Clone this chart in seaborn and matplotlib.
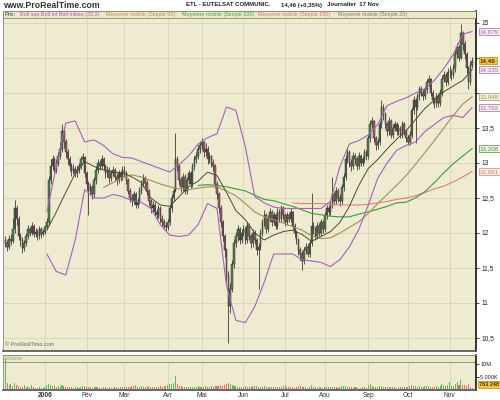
import numpy as np
import pandas as pd
import matplotlib
matplotlib.use("Agg")
import matplotlib.pyplot as plt
import matplotlib.transforms as mtrans
from matplotlib.patches import Rectangle
import seaborn as sns

# ------------------------------------------------------------------ data
first_session = "2005-12-01"
last_session = "2006-11-17"
closed_days = ["2005-12-26", "2006-04-14", "2006-04-17", "2006-05-01"]

first_open = 11.90
close_dec = [11.85, 11.80, 11.92, 11.88, 12.05, 12.35, 12.20, 11.95, 11.90, 11.78, 11.85, 11.95, 12.05, 12.00, 12.10, 11.98, 12.02, 11.95, 12.05, 11.98, 12.02]
close_jan = [12.08, 12.15, 12.75, 12.95, 13.05, 12.90, 13.00, 13.10, 13.20, 13.45, 13.30, 13.15, 13.05, 12.95, 12.88, 12.92, 12.85, 12.90, 12.95, 13.05, 13.08, 12.85]
close_feb = [12.70, 12.60, 12.65, 12.55, 12.75, 12.90, 13.00, 12.95, 13.05, 12.95, 12.85, 12.90, 12.78, 12.85, 12.90, 12.80, 12.75, 12.85, 12.80, 12.90]
close_mar = [12.85, 12.75, 12.60, 12.50, 12.45, 12.55, 12.40, 12.45, 12.60, 12.70, 12.78, 12.72, 12.60, 12.45, 12.35, 12.40, 12.30, 12.25, 12.35, 12.20, 12.15, 12.10, 12.08]
close_apr = [12.15, 12.35, 12.50, 12.60, 13.05, 12.95, 12.75, 12.65, 12.80, 12.60, 12.75, 12.85, 12.70, 12.95, 13.05, 13.10, 13.20, 13.25]
close_may = [13.30, 13.15, 13.20, 13.05, 13.10, 13.00, 12.95, 12.70, 12.55, 12.35, 12.15, 11.95, 11.75, 11.40, 10.95, 11.20, 11.55, 11.85, 11.95, 12.05, 11.90, 12.00]
close_jun = [12.05, 11.90, 12.10, 11.95, 11.85, 12.00, 11.90, 11.75, 11.80, 12.00, 12.15, 12.25, 12.05, 12.20, 12.30, 12.15, 12.25, 12.10, 12.30, 12.20, 12.35, 12.25]
close_jul = [12.15, 12.25, 12.20, 12.30, 12.10, 12.00, 11.90, 11.75, 11.70, 11.60, 11.75, 11.80, 11.70, 11.85, 12.10, 12.05, 11.95, 12.10, 12.00, 12.15, 12.05]
close_aug = [12.25, 12.35, 12.30, 12.40, 12.55, 12.45, 12.60, 12.50, 12.45, 12.65, 12.80, 13.05, 13.15, 13.00, 12.95, 13.10, 13.05, 12.95, 13.10, 13.00, 13.05, 13.15, 13.10]
close_sep = [13.35, 13.55, 13.60, 13.35, 13.25, 13.30, 13.55, 13.80, 13.70, 13.55, 13.45, 13.60, 13.40, 13.50, 13.55, 13.45, 13.50, 13.40, 13.55, 13.45, 13.35]
close_oct = [13.30, 13.40, 13.75, 13.90, 13.80, 13.95, 14.05, 14.00, 13.95, 14.05, 14.15, 14.20, 14.00, 13.90, 13.85, 13.95, 13.85, 14.00, 14.20, 14.25, 14.15, 14.30]
close_nov = [14.30, 14.25, 14.35, 14.55, 14.65, 14.50, 14.85, 14.70, 14.55, 14.35, 14.15, 14.40, 14.46]

high_dec = [11.95, 11.90, 11.97, 11.98, 12.22, 12.47, 12.40, 12.24, 12.00, 11.94, 11.90, 12.00, 12.12, 12.08, 12.16, 12.13, 12.07, 12.05, 12.10, 12.08, 12.06]
high_jan = [12.12, 12.22, 12.82, 13.05, 13.12, 13.08, 13.06, 13.16, 13.30, 13.55, 13.50, 13.34, 13.20, 13.10, 13.00, 12.98, 12.96, 12.95, 13.00, 13.10, 13.14, 13.10]
high_feb = [12.88, 12.74, 12.72, 12.68, 12.80, 12.96, 13.06, 13.04, 13.12, 13.08, 12.98, 12.95, 12.94, 12.90, 12.96, 12.93, 12.84, 12.90, 12.88, 12.95]
high_mar = [12.95, 12.88, 12.78, 12.64, 12.55, 12.60, 12.58, 12.50, 12.65, 12.76, 12.84, 12.82, 12.75, 12.63, 12.48, 12.46, 12.44, 12.34, 12.40, 12.38, 12.25, 12.20, 12.15]
high_apr = [12.20, 12.40, 12.55, 12.66, 13.43, 13.10, 12.98, 12.80, 12.86, 12.84, 12.80, 12.90, 12.88, 13.00, 13.10, 13.16, 13.26, 13.32]
high_may = [13.35, 13.32, 13.28, 13.24, 13.15, 13.12, 13.05, 12.98, 12.74, 12.58, 12.40, 12.18, 11.98, 11.78, 11.45, 11.28, 11.62, 11.92, 12.02, 12.12, 12.08, 12.06]
high_jun = [12.12, 12.08, 12.15, 12.14, 11.98, 12.05, 12.04, 11.93, 11.86, 12.05, 12.20, 12.33, 12.28, 12.26, 12.36, 12.33, 12.30, 12.28, 12.35, 12.34, 12.40, 12.38]
high_jul = [12.28, 12.30, 12.29, 12.35, 12.32, 12.14, 12.04, 11.93, 11.80, 11.74, 11.80, 11.86, 11.84, 11.90, 12.57, 12.15, 12.08, 12.15, 12.14, 12.20, 12.18]
high_aug = [12.30, 12.40, 12.40, 12.46, 12.80, 12.58, 12.66, 12.64, 12.55, 12.70, 12.86, 13.12, 13.22, 13.18, 13.05, 13.15, 13.14, 13.08, 13.15, 13.13, 13.10, 13.20, 13.18]
high_sep = [13.40, 13.62, 13.66, 13.62, 13.38, 13.36, 13.60, 13.90, 13.84, 13.73, 13.58, 13.66, 13.63, 13.56, 13.60, 13.58, 13.55, 13.53, 13.60, 13.58, 13.48]
high_oct = [13.40, 13.45, 13.80, 13.96, 13.93, 14.00, 14.10, 14.10, 14.04, 14.10, 14.20, 14.26, 14.22, 14.04, 13.94, 14.00, 13.98, 14.05, 14.26, 14.32, 14.28, 14.36]
high_nov = [14.38, 14.34, 14.42, 14.62, 14.72, 14.68, 14.98, 14.88, 14.74, 14.58, 14.38, 14.45, 14.52]

low_dec = [11.80, 11.74, 11.77, 11.83, 11.85, 12.00, 12.12, 11.90, 11.82, 11.72, 11.74, 11.82, 11.92, 11.95, 11.97, 11.94, 11.94, 11.90, 11.92, 11.93, 11.95]
low_jan = [11.98, 12.05, 12.12, 12.70, 12.90, 12.85, 12.86, 12.96, 13.05, 13.15, 13.22, 13.08, 12.98, 12.88, 12.82, 12.84, 12.80, 12.80, 12.86, 12.92, 13.00, 12.80]
low_feb = [12.62, 12.25, 12.55, 12.48, 12.52, 12.70, 12.86, 12.90, 12.92, 12.90, 12.78, 12.80, 12.72, 12.74, 12.82, 12.75, 12.68, 12.72, 12.74, 12.76]
low_mar = [12.80, 12.70, 12.55, 12.44, 12.38, 12.42, 12.35, 12.36, 12.42, 12.56, 12.66, 12.66, 12.54, 12.40, 12.28, 12.30, 12.24, 12.18, 12.22, 12.14, 12.10, 12.05, 12.03]
low_apr = [12.04, 12.12, 12.30, 12.46, 12.58, 12.88, 12.68, 12.58, 12.60, 12.55, 12.56, 12.70, 12.64, 12.66, 12.90, 13.00, 13.05, 13.14]
low_may = [13.18, 13.08, 13.10, 12.98, 13.00, 12.94, 12.88, 12.64, 12.48, 12.28, 12.08, 11.88, 11.66, 11.30, 10.43, 10.85, 11.15, 11.50, 11.80, 11.88, 11.84, 11.85]
low_jun = [11.95, 11.84, 11.86, 11.90, 11.78, 11.80, 11.84, 11.68, 11.20, 11.76, 11.96, 12.10, 12.00, 12.02, 12.15, 12.10, 12.12, 12.05, 12.06, 12.15, 12.16, 12.20]
low_jul = [12.10, 12.12, 12.15, 12.16, 12.05, 11.94, 11.84, 11.68, 11.62, 11.47, 11.56, 11.70, 11.65, 11.66, 11.82, 11.98, 11.90, 11.92, 11.95, 11.96, 12.00]
low_aug = [12.02, 12.20, 12.25, 12.26, 12.36, 12.40, 12.42, 12.44, 12.38, 12.42, 12.60, 12.76, 13.00, 12.94, 12.88, 12.92, 12.98, 12.90, 12.92, 12.95, 12.96, 13.00, 13.04]
low_sep = [13.06, 13.30, 13.50, 13.30, 13.18, 13.20, 13.26, 13.50, 13.62, 13.50, 13.38, 13.40, 13.35, 13.36, 13.45, 13.40, 13.40, 13.35, 13.36, 13.40, 13.30]
low_oct = [13.25, 13.26, 13.36, 13.70, 13.28, 13.76, 13.90, 13.95, 13.90, 13.92, 14.00, 14.10, 13.95, 13.84, 13.78, 13.80, 13.80, 13.82, 13.96, 14.15, 14.10, 14.12]
low_nov = [14.22, 14.18, 14.22, 14.30, 14.50, 14.45, 14.48, 14.62, 14.48, 14.28, 14.05, 14.12, 14.35]

# volume, thousands of shares
vol_dec = [12500, 2600, 1800, 2200, 1500, 2400, 1600, 1200, 900, 1100, 1700, 1000, 800, 900, 1900, 1000, 700, 600, 800, 500, 700]
vol_jan = [900, 1800, 2100, 1700, 1500, 1200, 900, 1300, 1100, 1600, 1200, 1000, 900, 800, 1100, 700, 900, 800, 700, 1000, 1200, 1300]
vol_feb = [1100, 900, 800, 700, 900, 1000, 800, 700, 600, 800, 900, 700, 800, 600, 700, 900, 800, 700, 1000, 800]
vol_mar = [900, 1100, 800, 1000, 1500, 1200, 1900, 1000, 1100, 1300, 900, 1000, 800, 1200, 900, 1000, 1100, 800, 900, 1300, 1000, 1200, 1400]
vol_apr = [1800, 2300, 2000, 2600, 5200, 2100, 1300, 1200, 900, 1000, 1100, 800, 900, 1000, 1100, 900, 1300, 1000]
vol_may = [1100, 900, 1200, 1000, 900, 1200, 1100, 1500, 1300, 1400, 1700, 1500, 1800, 2000, 2600, 2200, 1900, 1300, 1200, 1000, 1100, 900]
vol_jun = [1000, 1200, 900, 1100, 800, 1300, 1500, 1200, 1000, 900, 1100, 1200, 800, 1000, 900, 800, 1100, 1000, 900, 800, 1000, 1200]
vol_jul = [1700, 900, 800, 1000, 900, 700, 1100, 1200, 1300, 1000, 800, 900, 700, 900, 1600, 900, 800, 700, 800, 900, 700]
vol_aug = [800, 900, 1000, 800, 1100, 900, 800, 700, 900, 1200, 1300, 1500, 1100, 900, 800, 700, 900, 800, 700, 600, 800, 900, 700]
vol_sep = [1600, 2100, 1200, 900, 1000, 800, 1300, 1500, 1100, 1000, 900, 1100, 800, 900, 1000, 700, 800, 900, 1100, 1000, 900]
vol_oct = [1000, 1200, 1800, 1500, 1300, 1100, 1200, 1000, 900, 1300, 1400, 1200, 1000, 1100, 900, 1300, 1000, 1200, 2000, 1700, 1300, 1600]
vol_nov = [2900, 1500, 1400, 2100, 3100, 1800, 3600, 1900, 1700, 1500, 2300, 1100, 763.248]

# indicators, read every 5th session starting with the 3rd session
ind_offset = 2
ind_step = 5
boll_up = [None, None, None, None, 12.30, 12.95, 13.57, 13.60, 13.30, 13.33, 13.25, 13.13, 13.08, 13.07,
           13.02, 12.97, 12.92, 12.87, 12.98, 13.10, 13.27, 13.36, 13.42, 13.80, 13.75, 13.23, 12.52, 12.43,
           12.37, 12.35, 12.35, 12.35, 12.35, 12.35, 12.45, 12.95, 13.27, 13.32, 13.40, 13.55, 13.82, 13.88,
           13.93, 14.00, 14.06, 14.18, 14.35, 14.55, 14.84, 14.879]
boll_mid = [None, None, None, None, 12.04, 12.30, 12.58, 12.85, 13.02, 12.95, 12.90, 12.87, 12.86, 12.80,
            12.72, 12.50, 12.40, 12.38, 12.52, 12.66, 12.74, 12.87, 12.82, 12.58, 12.32, 12.19, 12.00, 11.90,
            11.97, 12.02, 12.04, 11.98, 11.88, 11.95, 12.02, 12.15, 12.38, 12.68, 12.92, 13.05, 13.20, 13.34,
            13.46, 13.62, 13.78, 13.90, 14.02, 14.10, 14.18, 14.335]
boll_low = [None, None, None, None, 11.70, 11.45, 11.40, 11.90, 12.62, 12.50, 12.50, 12.55, 12.52, 12.46,
            12.44, 12.35, 12.12, 11.97, 11.95, 11.97, 12.12, 12.42, 12.35, 11.25, 10.75, 10.72, 10.95, 11.30,
            11.70, 11.70, 11.70, 11.62, 11.60, 11.58, 11.52, 11.62, 11.80, 12.05, 12.40, 12.78, 13.00, 13.18,
            13.25, 13.30, 13.45, 13.55, 13.65, 13.68, 13.65, 13.792]
ma50 = [None] * 10 + [12.65, 12.72, 12.79, 12.83, 12.80, 12.75, 12.70, 12.66, 12.63, 12.62, 12.64, 12.66,
                      12.66, 12.60, 12.53, 12.42, 12.30, 12.23, 12.19, 12.14, 12.09, 12.04, 11.96, 11.92,
                      11.93, 12.00, 12.08, 12.16, 12.28, 12.42, 12.55, 12.68, 12.82, 12.98, 13.15, 13.32,
                      13.50, 13.68, 13.84, 13.948]
ma100 = [None] * 20 + [12.68, 12.69, 12.68, 12.66, 12.63, 12.60, 12.54, 12.48, 12.46, 12.42, 12.38, 12.33,
                       12.28, 12.26, 12.24, 12.23, 12.23, 12.27, 12.30, 12.34, 12.38, 12.43, 12.44, 12.50,
                       12.59, 12.72, 12.86, 12.99, 13.10, 13.208]
ma150 = [None] * 30 + [12.43, 12.42, 12.42, 12.42, 12.41, 12.40, 12.40, 12.40, 12.41, 12.43, 12.45, 12.48,
                       12.50, 12.53, 12.58, 12.63, 12.67, 12.73, 12.80, 12.881]

month_labels = ["2006", "Fév", "Mar", "Avr", "Mai", "Jun", "Jul", "Aou", "Sep", "Oct", "Nov"]
price_grid = [10.5, 11, 11.5, 12, 12.5, 13, 13.5, 14, 14.5, 15]
price_labelled = [10.5, 11, 11.5, 12, 12.5, 13, 13.5, 15]
vol_ticks = [5000, 10000]
vol_tick_labels = ["5 000K", "10M"]

title_left = "www.ProRealTime.com"
title_parts = ["ETL - EUTELSAT COMMUNIC.", "14,46 (+0,35%)", "Journalier  17 Nov"]
legend_items = [("Prix:", "#404040"),
                ("Boll sup Boll inf Boll milieu (20,2)", "#c050c0"),
                ("Moyenne mobile (Simple 50)", "#c09048"),
                ("Moyenne mobile (Simple 100)", "#38b038"),
                ("Moyenne mobile (Simple 150)", "#f07060"),
                ("Moyenne mobile (Simple 20)", "#808060")]

# ------------------------------------------------------------------ assemble
closes = np.array(close_dec + close_jan + close_feb + close_mar + close_apr + close_may +
                  close_jun + close_jul + close_aug + close_sep + close_oct + close_nov)
highs = np.array(high_dec + high_jan + high_feb + high_mar + high_apr + high_may +
                 high_jun + high_jul + high_aug + high_sep + high_oct + high_nov)
lows = np.array(low_dec + low_jan + low_feb + low_mar + low_apr + low_may +
                low_jun + low_jul + low_aug + low_sep + low_oct + low_nov)
vols = np.array(vol_dec + vol_jan + vol_feb + vol_mar + vol_apr + vol_may +
                vol_jun + vol_jul + vol_aug + vol_sep + vol_oct + vol_nov, dtype=float)
opens = np.concatenate([[first_open], closes[:-1]])

sessions = pd.bdate_range(first_session, last_session)
sessions = sessions[~sessions.isin(pd.to_datetime(closed_days))]
n = len(closes)
sessions = sessions[:n]
pos = np.arange(n)
sess = pd.Series(pos, index=sessions)
month_first = sess.groupby([sessions.year, sessions.month]).first().values[1:]

ind_pos = pos[ind_offset::ind_step]
ind = pd.DataFrame({"pos": ind_pos,
                    "bu": pd.to_numeric(pd.Series(boll_up), errors="coerce"),
                    "bm": pd.to_numeric(pd.Series(boll_mid), errors="coerce"),
                    "bl": pd.to_numeric(pd.Series(boll_low), errors="coerce"),
                    "m50": pd.to_numeric(pd.Series(ma50), errors="coerce"),
                    "m100": pd.to_numeric(pd.Series(ma100), errors="coerce"),
                    "m150": pd.to_numeric(pd.Series(ma150), errors="coerce")})

# ------------------------------------------------------------------ style
sns.set_theme(style="white")
plt.rcParams["font.family"] = ["Liberation Sans", "DejaVu Sans"]

PANEL = "#EFEBD1"
GRID = "#D8D4B4"
BOLL = "#a462bc"
MID = "#4c4c32"
C50 = "#a88c50"
C100 = "#3c9c3c"
C150 = "#e08070"
UP = "#4d8a4d"
DOWN = "#a85c70"
EDGE = "#2a2a2a"

fig = plt.figure(figsize=(5, 4), dpi=100, facecolor="white")
ax = fig.add_axes([0.006, 0.1225, 0.946, 0.85])
axv = fig.add_axes([0.006, 0.025, 0.946, 0.0875], sharex=ax)

for a in (ax, axv):
    a.set_facecolor(PANEL)
    for s in ("left", "top"):
        a.spines[s].set_color("#8a8a7a")
        a.spines[s].set_linewidth(0.6)
    a.spines["bottom"].set_color("#505050")
    a.spines["bottom"].set_linewidth(1.2)
    a.spines["right"].set_color("black")
    a.spines["right"].set_linewidth(1.1)

ax.set_xlim(-1.2, 249.0)
ax.set_ylim(10.314, 15.171)

# grid
ax.set_xticks(month_first)
ax.set_yticks(price_grid)
ax.grid(True, color=GRID, lw=0.6, zorder=0)
ax.set_axisbelow(True)

# candles
up = closes >= opens
ax.vlines(pos, lows, highs, color=EDGE, lw=0.55, zorder=3)
ax.bar(pos[up], (closes - opens)[up], bottom=opens[up], width=0.8,
       color=UP, edgecolor=EDGE, lw=0.35, zorder=3.5)
ax.bar(pos[~up], (closes - opens)[~up], bottom=opens[~up], width=0.8,
       color=DOWN, edgecolor=EDGE, lw=0.35, zorder=3.5)

# indicators
for col, colr, lw in [("m150", C150, 0.8), ("m100", C100, 0.8), ("m50", C50, 0.8),
                      ("bu", BOLL, 0.8), ("bl", BOLL, 0.8), ("bm", MID, 0.7)]:
    d = ind[["pos", col]].dropna()
    sns.lineplot(data=d, x="pos", y=col, ax=ax, color=colr, lw=lw,
                 estimator=None, zorder=4)
ax.set_xlabel("")
ax.set_ylabel("")

# right axis ticks
ax.yaxis.tick_right()
ax.set_yticklabels([("%g" % v).replace(".", ",") if v in price_labelled else ""
                    for v in price_grid])
ax.tick_params(axis="y", which="both", right=True, length=2.5, width=0.6, pad=1.5,
               labelsize=4.8, labelcolor="#222222", color="#222222")
ax.tick_params(axis="x", length=0, labelbottom=False)

# value boxes
blend = mtrans.blended_transform_factory(ax.transAxes, ax.transData)
def fmt(v, nd):
    return f"{v:.{nd}f}".replace(".", ",")
boxes = [(ind["bu"].iloc[-1], fmt(ind["bu"].iloc[-1], 3), BOLL, "#f4f0e2"),
         (closes[-1], fmt(closes[-1], 2), "#000000", "#f5c23c"),
         (ind["bm"].iloc[-1], fmt(ind["bm"].iloc[-1], 3), BOLL, "#f4f0e2"),
         (ind["m50"].iloc[-1], fmt(ind["m50"].iloc[-1], 3), C50, "#f4f0e2"),
         (ind["bl"].iloc[-1], fmt(ind["bl"].iloc[-1], 3), BOLL, "#f4f0e2"),
         (ind["m100"].iloc[-1], fmt(ind["m100"].iloc[-1], 3), C100, "#f4f0e2"),
         (ind["m150"].iloc[-1], fmt(ind["m150"].iloc[-1], 3), C150, "#f4f0e2")]
for v, t, c, fc in boxes:
    ec = "#c08a00" if fc == "#f5c23c" else c
    ax.text(1.008, v, t, transform=blend, fontsize=4.5, color=c, va="center", ha="left",
            clip_on=False, zorder=6,
            bbox=dict(boxstyle="square,pad=0.18", fc=fc, ec=ec, lw=0.5))

# legend strip
ax.add_patch(Rectangle((0, 0.9794), 1, 0.0206, transform=ax.transAxes, fc="#ECE8C6",
                       ec="#7a7a62", lw=0.5, zorder=5))
legend_x = [0.004, 0.036, 0.218, 0.378, 0.539, 0.708]
for (txt, c), xx in zip(legend_items, legend_x):
    ax.text(xx, 0.9897, txt, transform=ax.transAxes, fontsize=3.9, color=c,
            va="center", ha="left", zorder=6)

ax.text(0.004, 0.013, "© ProRealTime.com", transform=ax.transAxes, fontsize=4,
        color="#666666", va="bottom", ha="left", zorder=6)

# volume panel
vup = np.concatenate([[True], closes[1:] >= closes[:-1]])
axv.bar(pos[vup], vols[vup], width=0.55, color="#5cb85c", lw=0, zorder=3)
axv.bar(pos[~vup], vols[~vup], width=0.55, color="#e07070", lw=0, zorder=3)
axv.set_ylim(-200, 13500)
axv.add_patch(Rectangle((0, 0.8), 1, 0.2, transform=axv.transAxes, fc="#ECE8C6",
                        ec="#7a7a62", lw=0.5, zorder=1.5))
axv.text(0.004, 0.9, "Volume", transform=axv.transAxes, fontsize=3.9, color="#70c070",
         va="center", ha="left", zorder=6)
axv.set_xticks(month_first)
axv.set_xticklabels(month_labels)
for lab in axv.get_xticklabels():
    lab.set_fontsize(4.8)
    lab.set_color("#333333")
axv.get_xticklabels()[0].set_fontweight("bold")
axv.tick_params(axis="x", length=0, pad=1.2)
axv.grid(True, axis="x", color=GRID, lw=0.6, zorder=0)
axv.set_axisbelow(True)
axv.yaxis.tick_right()
axv.set_yticks(vol_ticks)
axv.set_yticklabels(vol_tick_labels)
axv.tick_params(axis="y", length=2.0, width=0.6, pad=1.0, labelsize=4.0,
                labelcolor="#222222", color="#222222")
vblend = mtrans.blended_transform_factory(axv.transAxes, axv.transData)
last_vol = f"{int(round(vols[-1] * 1000)):,}".replace(",", " ")
axv.text(1.006, 2000, last_vol, transform=vblend, fontsize=4.0, color="#000000",
         va="center", ha="left", clip_on=False, zorder=6,
         bbox=dict(boxstyle="square,pad=0.15", fc="#f5c23c", ec="#c08a00", lw=0.5))
axv.set_xlabel("")
axv.set_ylabel("")

# titles
fig.text(0.006, 0.9875, title_left, fontsize=6.3, fontweight="bold", color="#333333",
         va="center", ha="left")
for t, xx in zip(title_parts, [0.372, 0.562, 0.654]):
    fig.text(xx, 0.9875, t, fontsize=4.3, fontweight="bold", color="#222222",
             va="center", ha="left")

fig.savefig("out.png", dpi=100, facecolor="white")
